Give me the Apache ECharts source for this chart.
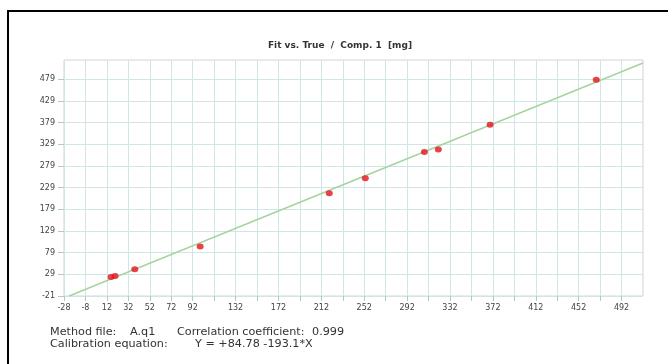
<!DOCTYPE html>
<html>
<head>
<meta charset="utf-8">
<script src="https://cdn.jsdelivr.net/npm/echarts@6/dist/echarts.min.js"></script>
<style>
  html, body { margin: 0; padding: 0; background: #fff; }
  #chart { width: 668px; height: 364px; }
</style>
</head>
<body>
<div id="chart"></div>
<script>
// Measured samples: true amount vs. fitted amount (mg)
const trueValues = [15.9, 19.6, 38.0, 99.0, 219.4, 253.0, 308.1, 321.1, 369.4, 468.4];
const fitValues  = [22.8, 25.1, 40.5, 93.0, 215.6, 250.2, 310.8, 316.6, 373.7, 477.4];

// Regression line end points
const lineX = [-23.3, 512];
const lineY = [-21, 516];

// Axis ticks
const xTicks = [-28, -8, 12, 32, 52, 72, 92, 112, 132, 152, 172, 192, 212, 232, 252, 272,
                292, 312, 332, 352, 372, 392, 412, 432, 452, 472, 492];
const xLabels = [-28, -8, 12, 32, 52, 72, 92, 132, 172, 212, 252, 292, 332, 372, 412, 452, 492];
const yTicks = [-21, 29, 79, 129, 179, 229, 279, 329, 379, 429, 479];

const titleText = 'Fit vs. True  /  Comp. 1  [mg]';

// Footer text pieces: [text, left, top]
const footer = [
  ['Method file:', 50, 327],
  ['A.q1', 130, 327],
  ['Correlation coefficient:', 177, 327],
  ['0.999', 312, 327],
  ['Calibration equation:', 50, 339],
  ['Y = +84.78 -193.1*X', 195, 339]
];

const chart = echarts.init(document.getElementById('chart'), null, { renderer: 'canvas' });

const font = '"DejaVu Sans", sans-serif';
const gridColor = '#cfe6e6';
const tickColor = '#a9cccc';

chart.setOption({
  animation: false,
  backgroundColor: '#fff',
  title: {
    text: titleText,
    left: 335,
    top: 36,
    textAlign: 'center',
    textStyle: { fontFamily: font, fontSize: 9, fontWeight: 'bold', color: '#333' }
  },
  grid: {
    left: 64, right: 25, top: 60, bottom: 68,
    show: true, borderColor: '#d4d4d4', borderWidth: 1
  },
  xAxis: {
    type: 'value',
    min: -28, max: 512,
    axisLine: { show: false, onZero: false },
    axisTick: { show: true, customValues: xTicks, length: 5, lineStyle: { color: tickColor } },
    axisLabel: {
      customValues: xLabels,
      fontFamily: font, fontSize: 8, color: '#444', margin: 8
    },
    splitLine: { show: true, lineStyle: { color: gridColor, width: 1 } }
  },
  yAxis: {
    type: 'value',
    min: -21, max: 523,
    axisLine: { show: false, onZero: false },
    axisTick: { show: true, customValues: yTicks, length: 6, lineStyle: { color: tickColor } },
    axisLabel: {
      customValues: yTicks,
      fontFamily: font, fontSize: 8, color: '#444', margin: 9
    },
    splitLine: { show: true, lineStyle: { color: gridColor, width: 1 } }
  },
  series: [
    {
      type: 'line',
      data: lineX.map((x, i) => [x, lineY[i]]),
      showSymbol: false,
      lineStyle: { color: '#a6d4a0', width: 1.5 },
      z: 2
    },
    {
      type: 'scatter',
      data: trueValues.map((x, i) => [x, fitValues[i]]),
      symbol: 'circle',
      symbolSize: [7, 6],
      itemStyle: { color: '#e3141b' },
      z: 3
    }
  ],
  graphic: [
    {
      type: 'rect',
      shape: { x: 8, y: 11, width: 700, height: 400 },
      style: { fill: 'none', stroke: '#000', lineWidth: 2 },
      z: 100
    }
  ].concat(footer.map(([t, x, y]) => ({
    type: 'text', x: x, y: y, scaleX: 1.12,
    style: { text: t, font: '10px ' + font, fill: '#333' }
  })))
});
</script>
</body>
</html>
